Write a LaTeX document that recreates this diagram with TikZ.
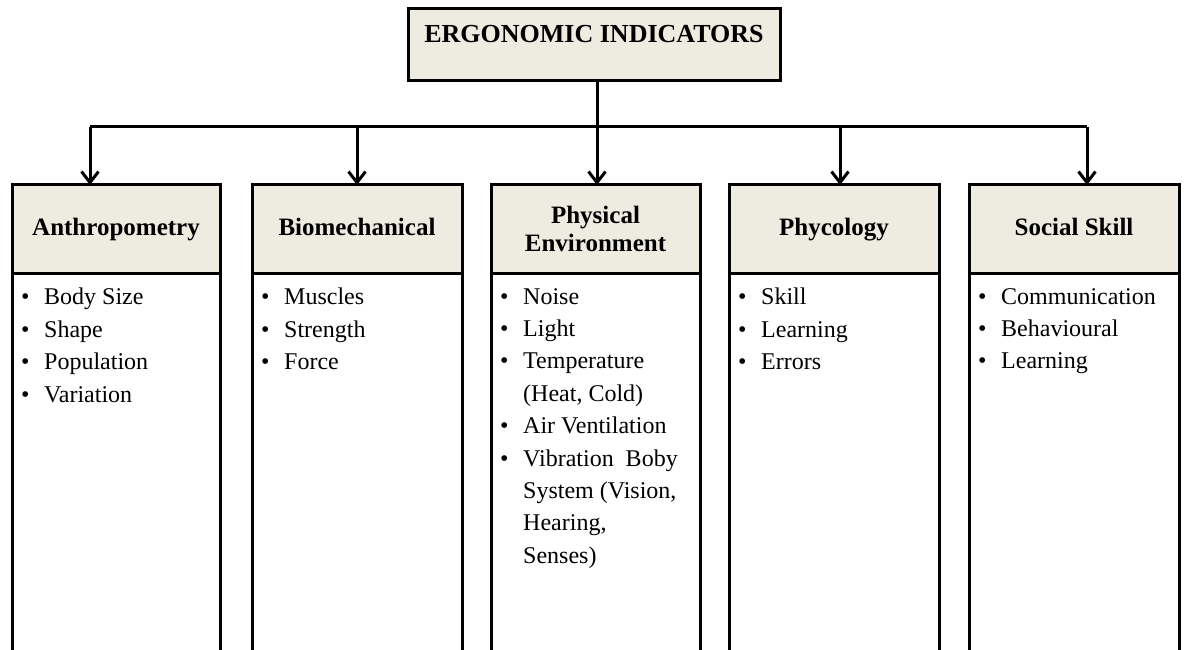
\documentclass[tikz,border=0pt]{standalone}
\usepackage{fontspec}
\setmainfont{Liberation Serif}
\usetikzlibrary{arrows.meta}
\definecolor{headfill}{HTML}{EEECE1}
% bullet with hanging indent, and the matching indent for wrapped lines
\newcommand{\bul}{\makebox[23pt][l]{\textbullet}}
\newcommand{\cont}{\hspace*{23pt}}

\begin{document}
\begin{tikzpicture}[x=1pt,y=-1pt,
  frame/.style={draw=black, line width=3pt, inner sep=0pt, outer sep=0pt},
  headbox/.style={frame, fill=headfill, minimum height=88pt,
    font=\fontsize{25}{28}\selectfont\bfseries, align=center},
  onehead/.style={headbox, text height=17pt, text depth=5pt},
  bodybox/.style={frame, fill=white, anchor=north, minimum height=400pt},
  items/.style={anchor=north west, inner sep=0pt, align=left,
    font=\fontsize{24}{32.4}\selectfont},
  link/.style={line width=3pt},
  arr/.style={link, -{Straight Barb[length=11pt,width=17pt]}}
]
\useasboundingbox (0,0) rectangle (1184,650);
\clip (0,0) rectangle (1184,650);

% top box
\node[frame, fill=headfill, minimum width=372pt, minimum height=72pt] (top) at (594,45) {};
\node[font=\fontsize{26}{30}\selectfont\bfseries, inner sep=0pt] (toptext) at (594,34) {ERGONOMIC INDICATORS};

% category headers
\node[onehead, minimum width=208pt] (h1) at (116,229) {Anthropometry};
\node[onehead, minimum width=210pt] (h2) at (357,229) {Biomechanical};
\node[headbox, minimum width=209pt] (h3) at (595.5,229) {Physical\\Environment};
\node[onehead, minimum width=210pt] (h4) at (834,229) {Phycology};
\node[onehead, minimum width=210pt] (h5) at (1074,229) {Social Skill};

% bodies (running past the lower edge)
\node[bodybox, minimum width=208pt] (b1) at (h1.south) {};
\node[bodybox, minimum width=210pt] (b2) at (h2.south) {};
\node[bodybox, minimum width=209pt] (b3) at (h3.south) {};
\node[bodybox, minimum width=210pt] (b4) at (h4.south) {};
\node[bodybox, minimum width=210pt] (b5) at (h5.south) {};

% item lists
\node[items] (l1) at (21,288) {\bul Body Size\\ \bul Shape\\ \bul Population\\ \bul Variation};
\node[items] (l2) at (261,288) {\bul Muscles\\ \bul Strength\\ \bul Force};
\node[items] (l3) at (500,288) {\bul Noise\\ \bul Light\\ \bul Temperature\\ \cont (Heat, Cold)\\ \bul Air Ventilation\\ \bul Vibration\ \ Boby\\ \cont System (Vision,\\ \cont Hearing,\\ \cont Senses)};
\node[items] (l4) at (738,288) {\bul Skill\\ \bul Learning\\ \bul Errors};
\node[items] (l5) at (978,288) {\bul Communication\\ \bul Behavioural\\ \bul Learning};

% connectors
\coordinate (a1) at (90,127);
\coordinate (a2) at (357,127);
\coordinate (a3) at (597,127);
\coordinate (a4) at (840,127);
\coordinate (a5) at (1087,127);
\draw[link] (a1) -- (a5);
\draw[arr] (top.south -| a3) -- (a3 |- h3.north);
\draw[arr] (a1) -- (a1 |- h1.north);
\draw[arr] (a2) -- (a2 |- h2.north);
\draw[arr] (a4) -- (a4 |- h4.north);
\draw[arr] (a5) -- (a5 |- h5.north);
\end{tikzpicture}
\end{document}
